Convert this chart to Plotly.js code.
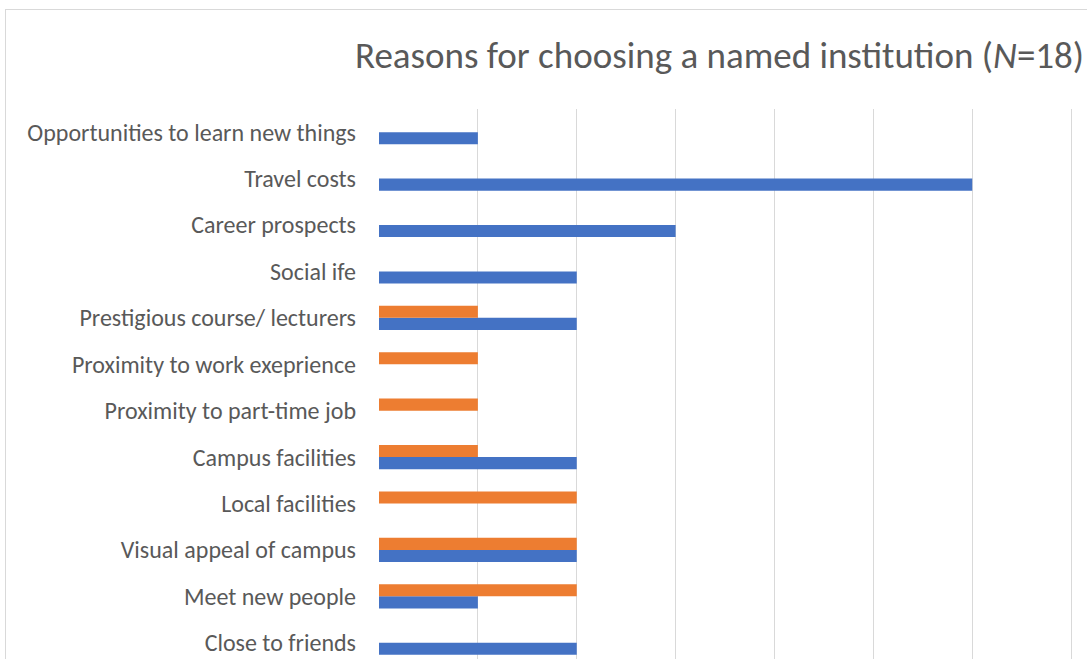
<!DOCTYPE html>
<html>
<head>
<meta charset="utf-8">
<script src="https://cdn.plot.ly/plotly-3.0.1.min.js"></script>
<style>
html,body{margin:0;padding:0;overflow:hidden;background:#fff;width:1087px;height:659px;}
#frame{position:absolute;left:5px;top:9px;width:1200px;height:800px;border:1px solid #d9d9d9;box-sizing:border-box;}
#chart{position:absolute;left:0;top:0;width:1087px;height:659px;}
</style>
</head>
<body>
<div id="frame"></div>
<div id="chart"></div>
<script>
// categories bottom to top (Excel order)
const categories = [
  "Close to friends",
  "Meet new people",
  "Visual appeal of campus",
  "Local facilities",
  "Campus facilities",
  "Proximity to part-time job",
  "Proximity to work exeprience",
  "Prestigious course/ lecturers",
  "Social ife",
  "Career prospects",
  "Travel costs",
  "Opportunities to learn new things"
];
const seriesBlue   = [2, 1, 2, 0, 2, 0, 0, 2, 2, 3, 6, 1];
const seriesOrange = [0, 2, 2, 2, 1, 1, 1, 1, 0, 0, 0, 0];
const xTicks = [0, 1, 2, 3, 4, 5, 6, 7];

const FONT = 'Carlito, "Liberation Sans", sans-serif';

const traces = [
  {type:'bar', orientation:'h', y:categories, x:seriesBlue, name:'Series 1',
   marker:{color:'#4472C4'}, hoverinfo:'x+y'},
  {type:'bar', orientation:'h', y:categories, x:seriesOrange, name:'Series 2',
   marker:{color:'#ED7D31'}, hoverinfo:'x+y'}
];

const layout = {
  width:1087, height:659,
  paper_bgcolor:'rgba(0,0,0,0)', plot_bgcolor:'rgba(0,0,0,0)',
  margin:{l:379, r:6, t:109, b:0, pad:0},
  barmode:'group', bargap:0.48, bargroupgap:0,
  showlegend:false,
  font:{family:FONT, color:'#595959'},
  title:{
    text:'Reasons for choosing a named institution (<i>N</i>=18)',
    font:{size:37, color:'#595959', family:FONT},
    x:355/1087, xanchor:'left', xref:'container',
    y:1-55/659, yanchor:'middle', yref:'container'
  },
  xaxis:{
    range:[0, 7.1], tickvals:xTicks, showticklabels:false,
    showgrid:true, gridcolor:'#d9d9d9', gridwidth:1,
    zeroline:false, showline:false, ticks:''
  },
  yaxis:{
    type:'category', range:[-0.35, 11.5],
    showgrid:false, zeroline:false, showline:false, ticks:'',
    tickfont:{size:24, color:'#595959', family:FONT},
    ticklabelstandoff:22
  }
};

Plotly.newPlot('chart', traces, layout, {displayModeBar:false, staticPlot:true});
</script>
</body>
</html>
